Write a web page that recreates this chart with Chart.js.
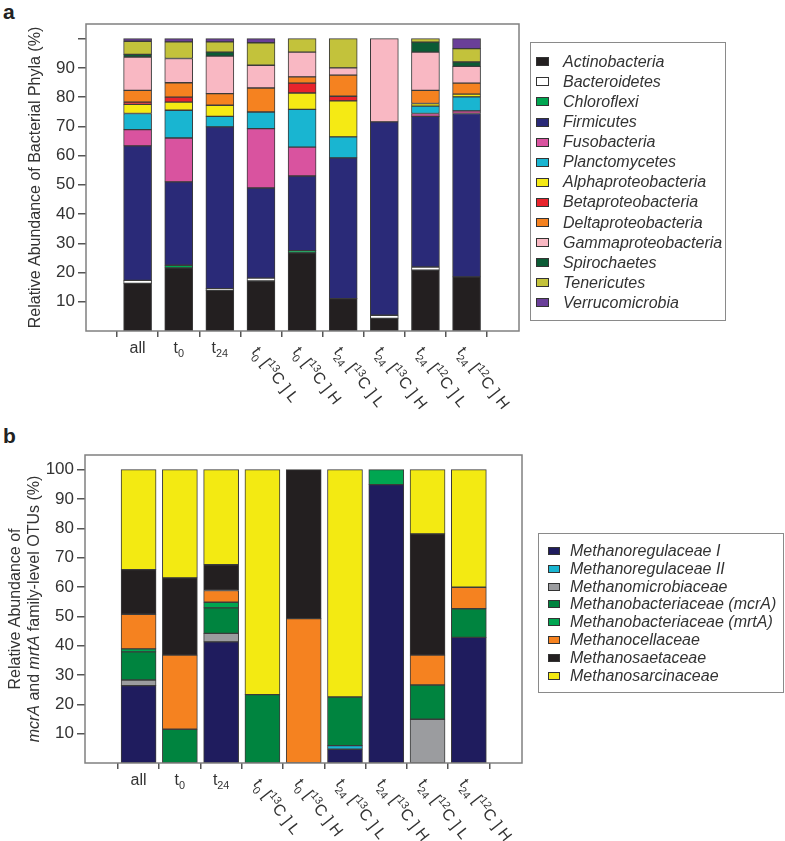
<!DOCTYPE html>
<html>
<head>
<meta charset="utf-8">
<script src="https://cdn.jsdelivr.net/npm/chart.js@4.4.1/dist/chart.umd.min.js"></script>
<style>
  body { margin: 0; background: #fff; }
  #page { position: relative; width: 785px; height: 841px; overflow: hidden; font-family: "Liberation Sans", Arial, sans-serif; color: #333; }
  canvas { position: absolute; left: 0; }
  .panel { position: absolute; font-weight: bold; font-size: 21px; color: #222; }
  .lgbox { position: absolute; border: 1.5px solid #8a8a8a; box-sizing: border-box; }
  .sw { position: absolute; border: 1px solid #333; box-sizing: border-box; }
  .lt { position: absolute; font-style: italic; font-size: 16px; line-height: 18px; white-space: nowrap; color: #333; }
</style>
</head>
<body>
<div id="page">
  <div class="panel" style="left:3px;top:0px">a</div>
  <div class="panel" style="left:3px;top:424px">b</div>
  <canvas id="chartA" width="785" height="430" style="top:0"></canvas>
  <canvas id="chartB" width="785" height="411" style="top:430px"></canvas>
</div>
<script>
// sample labels (_{..} subscript, ^{..} superscript)
var categories = ['all', 't_{0}', 't_{24}',
  't_{0} [^{13}C ] L', 't_{0} [^{13}C ] H',
  't_{24} [^{13}C ] L', 't_{24} [^{13}C ] H',
  't_{24} [^{12}C ] L', 't_{24} [^{12}C ] H'];

// panel a: bacterial phyla (%)
var phyla = ['Actinobacteria', 'Bacteroidetes', 'Chloroflexi', 'Firmicutes', 'Fusobacteria',
  'Planctomycetes', 'Alphaproteobacteria', 'Betaproteobacteria', 'Deltaproteobacteria',
  'Gammaproteobacteria', 'Spirochaetes', 'Tenericutes', 'Verrucomicrobia'];
var phylaColors = ['#231f20', '#ffffff', '#00a651', '#2a2a78', '#d9539f', '#19b5d1', '#f5ea14',
  '#e8242c', '#f58220', '#f9b8c3', '#0b5b35', '#c3c23b', '#6a3f99'];
var actinobacteria = [16.3, 21.6, 13.9, 17.1, 26.7, 11.1, 4.3, 20.8, 18.5];
var bacteroidetes = [1.0, 0, 0.6, 1.0, 0, 0, 1.1, 1.1, 0];
var chloroflexi = [0, 0.9, 0, 0, 0.8, 0, 0, 0, 0];
var firmicutes = [46.0, 28.5, 55.3, 30.8, 25.5, 48.1, 66.1, 51.5, 55.9];
var fusobacteria = [5.6, 15.0, 0, 20.3, 9.9, 0, 0, 1.0, 0.9];
var planctomycetes = [5.5, 9.5, 3.6, 5.7, 12.9, 7.2, 0, 2.5, 4.8];
var alphaproteo = [3.1, 2.8, 3.8, 0, 5.6, 12.3, 0, 0.9, 0.9];
var betaproteo = [0.8, 1.7, 0, 0, 3.4, 1.6, 0, 0, 0];
var deltaproteo = [4.0, 4.9, 4.0, 8.2, 2.1, 7.2, 0, 4.5, 3.8];
var gammaproteo = [11.4, 8.3, 12.8, 7.8, 8.5, 2.5, 28.5, 13.1, 5.7];
var spirochaetes = [0.9, 0, 1.4, 0, 0, 0, 0, 3.4, 1.5];
var tenericutes = [4.5, 5.7, 3.5, 7.7, 4.6, 10.0, 0, 1.2, 4.6];
var verrucomicrobia = [0.9, 1.1, 1.1, 1.4, 0, 0, 0, 0, 3.4];
var phylaValues = [actinobacteria, bacteroidetes, chloroflexi, firmicutes, fusobacteria,
  planctomycetes, alphaproteo, betaproteo, deltaproteo, gammaproteo, spirochaetes,
  tenericutes, verrucomicrobia];

// panel b: mcrA / mrtA family-level OTUs (%)
var families = ['Methanoregulaceae I', 'Methanoregulaceae II', 'Methanomicrobiaceae',
  'Methanobacteriaceae (mcrA)', 'Methanobacteriaceae (mrtA)', 'Methanocellaceae',
  'Methanosaetaceae', 'Methanosarcinaceae'];
var familyColors = ['#1f1c5e', '#19b5d1', '#9b9c9f', '#00843f', '#00a651', '#f58220', '#231f20', '#f3ea12'];
var regulaceaeI = [26.4, 0, 41.3, 0, 0, 4.7, 94.9, 0, 42.8];
var regulaceaeII = [0, 0, 0, 0, 0, 1.2, 0, 0, 0];
var microbiaceae = [1.9, 0, 2.9, 0, 0, 0, 0, 14.9, 0];
var bacteriaceaeMcrA = [9.6, 11.5, 8.7, 23.3, 0, 16.6, 0, 11.7, 9.8];
var bacteriaceaeMrtA = [1.0, 0, 1.9, 0, 0, 0, 5.1, 0, 0];
var cellaceae = [11.8, 25.3, 4.0, 0, 49.2, 0, 0, 10.2, 7.3];
var saetaceae = [15.2, 26.3, 8.8, 0, 50.8, 0, 0, 41.3, 0];
var sarcinaceae = [34.1, 36.9, 32.4, 76.7, 0, 77.5, 0, 21.9, 40.1];
var familyValues = [regulaceaeI, regulaceaeII, microbiaceae, bacteriaceaeMcrA,
  bacteriaceaeMrtA, cellaceae, saetaceae, sarcinaceae];

var yTicks = [10, 20, 30, 40, 50, 60, 70, 80, 90, 100];

var FONT = '"Liberation Sans", Arial, sans-serif';
var TXT = '#333';

function toPoints(vals) {
  return vals.map(function (v, i) { return { x: i, y: v ? v : null }; });
}

function richSegments(s) {
  var out = [], re = /([_^])\{([^}]*)\}/g, last = 0, m;
  while ((m = re.exec(s))) {
    if (m.index > last) out.push({ t: s.slice(last, m.index), k: '' });
    out.push({ t: m[2], k: m[1] });
    last = re.lastIndex;
  }
  if (last < s.length) out.push({ t: s.slice(last), k: '' });
  return out;
}

function drawRich(ctx, s, x, y, size, center) {
  var segs = richSegments(s);
  var w = 0;
  segs.forEach(function (g) {
    g.fs = g.k ? size * 0.68 : size;
    ctx.font = g.fs + 'px ' + FONT;
    g.w = ctx.measureText(g.t).width;
    w += g.w;
  });
  var cx = center ? x - w / 2 : x;
  segs.forEach(function (g) {
    ctx.font = g.fs + 'px ' + FONT;
    var dy = g.k === '_' ? size * 0.28 : (g.k === '^' ? -size * 0.38 : 0);
    ctx.fillText(g.t, cx, y + dy);
    cx += g.w;
  });
}

var boxPlugin = {
  id: 'box',
  afterDraw: function (chart) {
    var a = chart.chartArea, ctx = chart.ctx;
    ctx.save();
    ctx.strokeStyle = '#808080';
    ctx.lineWidth = 1.5;
    ctx.strokeRect(a.left, a.top, a.right - a.left, a.bottom - a.top);
    ctx.restore();
  }
};

var xLabelPlugin = {
  id: 'xlabels',
  afterDraw: function (chart) {
    var ctx = chart.ctx, xs = chart.scales.x, bottom = chart.chartArea.bottom;
    ctx.save();
    ctx.fillStyle = TXT;
    ctx.textBaseline = 'alphabetic';
    ctx.textAlign = 'left';
    categories.forEach(function (c, i) {
      var px = xs.getPixelForValue(i);
      if (i < 3) {
        drawRich(ctx, c, px, bottom + 22, 16, true);
      } else {
        ctx.save();
        ctx.translate(px - 10, bottom + 21);
        ctx.rotate(52 * Math.PI / 180);
        drawRich(ctx, c, 0, 0, 16, false);
        ctx.restore();
      }
    });
    ctx.restore();
  }
};

function yTitlePlugin(lines) {
  return {
    id: 'ytitle',
    afterDraw: function (chart) {
      var ctx = chart.ctx, a = chart.chartArea;
      var cy = (a.top + a.bottom) / 2;
      ctx.save();
      ctx.fillStyle = TXT;
      ctx.textBaseline = 'middle';
      lines.forEach(function (ln) {
        ctx.save();
        ctx.translate(ln.x, cy);
        ctx.rotate(-Math.PI / 2);
        var w = 0;
        ln.parts.forEach(function (p) {
          ctx.font = (p.i ? 'italic ' : '') + '16px ' + FONT;
          p.w = ctx.measureText(p.t).width;
          w += p.w;
        });
        var cx = -w / 2;
        ln.parts.forEach(function (p) {
          ctx.font = (p.i ? 'italic ' : '') + '16px ' + FONT;
          ctx.fillText(p.t, cx, 0);
          cx += p.w;
        });
        ctx.restore();
      });
      ctx.restore();
    }
  };
}

function makeChart(id, names, colors, values, opt) {
  return new Chart(document.getElementById(id), {
    type: 'bar',
    data: {
      datasets: names.map(function (n, k) {
        return {
          label: n,
          data: toPoints(values[k]),
          backgroundColor: colors[k],
          borderColor: '#3b3b3b',
          borderWidth: 1,
          borderSkipped: false,
          barThickness: opt.bar
        };
      })
    },
    options: {
      responsive: false,
      devicePixelRatio: 1,
      animation: false,
      layout: { padding: { left: 0, right: opt.right, top: opt.top, bottom: 0 } },
      plugins: { legend: { display: false }, tooltip: { enabled: false } },
      scales: {
        x: {
          type: 'linear',
          stacked: true,
          min: opt.xmin,
          max: opt.xmax,
          afterBuildTicks: function (s) { s.ticks = categories.map(function (c, i) { return { value: i }; }); },
          ticks: { display: false },
          grid: { drawOnChartArea: false, tickLength: 6, color: '#555', lineWidth: 1.5 },
          border: { display: false },
          afterFit: function (s) { s.height = opt.xh; }
        },
        y: {
          stacked: true,
          min: 0,
          max: 105,
          afterBuildTicks: function (s) { s.ticks = yTicks.map(function (v) { return { value: v }; }); },
          ticks: {
            color: TXT,
            padding: 3,
            font: { size: 17, family: FONT },
            callback: function (v) { return (v === 100 && !opt.show100) ? '' : v; }
          },
          grid: { drawOnChartArea: false, tickLength: 8, color: '#555', lineWidth: 1.5 },
          border: { display: false },
          afterFit: function (s) { s.width = opt.left; }
        }
      }
    },
    plugins: [boxPlugin, xLabelPlugin, yTitlePlugin(opt.title)]
  });
}

makeChart('chartA', phyla, phylaColors, phylaValues, {
  bar: 28, left: 86, right: 266, top: 24, xh: 99, xmin: -0.67, xmax: 8.69, show100: false,
  title: [{ x: 36, parts: [{ t: 'Relative Abundance of Bacterial Phyla (%)' }] }]
});

makeChart('chartB', families, familyColors, familyValues, {
  bar: 35, left: 85, right: 263, top: 25, xh: 78, xmin: -0.71, xmax: 8.70, show100: true,
  title: [
    { x: 16, parts: [{ t: 'Relative Abundance of' }] },
    { x: 35, parts: [{ t: 'mcrA', i: true }, { t: ' and ' }, { t: 'mrtA', i: true }, { t: ' family-level OTUs (%)' }] }
  ]
});

function buildLegend(names, colors, box, items) {
  var page = document.getElementById('page');
  var b = document.createElement('div');
  b.className = 'lgbox';
  b.style.left = box.x + 'px'; b.style.top = box.y + 'px';
  b.style.width = box.w + 'px'; b.style.height = box.h + 'px';
  page.appendChild(b);
  names.forEach(function (n, i) {
    var cy = items.y0 + items.dy * i;
    var sw = document.createElement('div');
    sw.className = 'sw';
    sw.style.left = items.sx + 'px';
    sw.style.top = (cy - items.sh / 2) + 'px';
    sw.style.width = items.sw + 'px';
    sw.style.height = items.sh + 'px';
    sw.style.background = colors[i];
    page.appendChild(sw);
    var t = document.createElement('div');
    t.className = 'lt';
    t.style.left = items.tx + 'px';
    t.style.top = (cy - 9) + 'px';
    t.textContent = n;
    page.appendChild(t);
  });
}

buildLegend(phyla, phylaColors, { x: 530, y: 42, w: 196, h: 279 },
  { y0: 61.7, dy: 20.1, sx: 536, sw: 13, sh: 9, tx: 563 });
buildLegend(families, familyColors, { x: 538, y: 533, w: 246, h: 160 },
  { y0: 550.7, dy: 17.9, sx: 548, sw: 12, sh: 8, tx: 570 });
</script>
</body>
</html>
